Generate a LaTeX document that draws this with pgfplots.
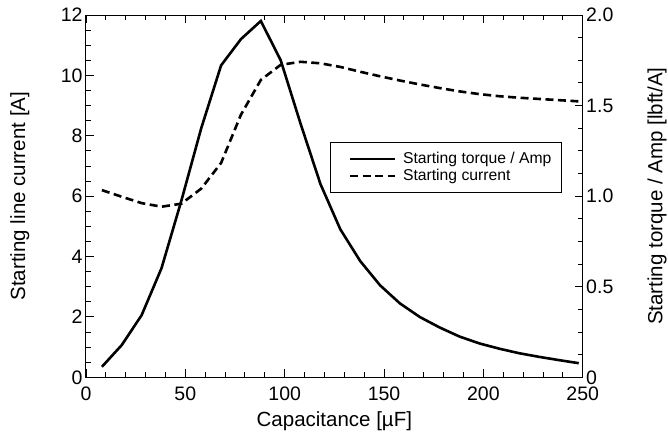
\documentclass[border=0pt]{standalone}
\usepackage{fontspec}
\setmainfont{Liberation Sans}
\usepackage{pgfplots}
\pgfplotsset{compat=1.18}

\pgfplotsset{
  every axis/.append style={
    scale only axis,
    width=496.7pt, height=362.3pt,
    at={(0,0)}, anchor=south west,
    xmin=0, xmax=250,
    tick align=inside,
    major tick length=8pt, minor tick length=5pt,
    every tick/.style={black, line width=0.9pt},
    axis line style={line width=1pt},
    tick label style={font=\fontsize{19.5}{22}\selectfont},
    xticklabel style={yshift=-6pt},
    label style={font=\fontsize{20.5}{24}\selectfont},
    every axis y label/.append style={anchor=center,
      font=\fontsize{20.5}{24}\selectfont},
    /pgf/number format/assume math mode=true,
  }
}

\begin{document}
\begin{tikzpicture}
\path[use as bounding box] (-86pt,-62.7pt) rectangle (582pt,377.3pt);

% starting current, left axis
\begin{axis}[
  ymin=0, ymax=12,
  ytick={0,2,...,12}, minor y tick num=3, ytick pos=left,
  xtick={0,50,...,250}, minor x tick num=4, xtick pos=both,
  xticklabel pos=lower,
  ylabel={Starting line current [A]},
  ylabel style={at={(axis description cs:-0.133,0.5)}},
  xlabel={Capacitance [µF]},
  xlabel style={at={(axis description cs:0.5,-0.122)}, anchor=center},
]
\addplot[black, line width=2.6pt, dash pattern=on 8pt off 4.5pt] coordinates {
  (8,6.20) (18,5.98) (28,5.77) (38,5.65) (48,5.75) (58,6.25) (68,7.10)
  (78,8.70) (88,9.85) (98,10.35) (108,10.45) (118,10.40) (128,10.28)
  (138,10.12) (148,9.97) (158,9.83) (168,9.70) (178,9.58) (188,9.47)
  (198,9.38) (208,9.31) (218,9.26) (228,9.22) (238,9.18) (248,9.14)
};
\end{axis}

% starting torque per amp, right axis
\begin{axis}[
  axis x line=none, axis y line*=right,
  ymin=0, ymax=2,
  ytick={0,0.5,1,1.5,2}, yticklabels={0,0.5,1.0,1.5,2.0},
  minor y tick num=3,
  ylabel={Starting torque / Amp [lbft/A]},
  ylabel style={at={(axis description cs:1.1496,0.5)}},
  legend style={at={(rel axis cs:0.958,0.649)}, anchor=north east,
    draw=black, line width=0.8pt, fill=white,
    font=\fontsize{15.7}{18}\selectfont, inner xsep=8pt, inner ysep=8pt,
    row sep=0pt},
  legend cell align=left,
  legend image code/.code={\draw[#1, line width=2.6pt] (0pt,0pt) -- (45pt,0pt);
    \path[draw=none] (-12pt,0pt) (51pt,0pt);},
]
\addplot[black, line width=2.6pt] coordinates {
  (8,0.058) (18,0.178) (28,0.343) (38,0.602) (48,0.975) (58,1.375)
  (68,1.722) (78,1.867) (88,1.967) (98,1.750) (108,1.400) (118,1.067)
  (128,0.817) (138,0.642) (148,0.508) (158,0.408) (168,0.333)
  (178,0.275) (188,0.225) (198,0.187) (208,0.158) (218,0.133)
  (228,0.113) (238,0.095) (248,0.078)
};
\addlegendentry{Starting torque / Amp}
\addlegendimage{black, dash pattern=on 8pt off 4.5pt}
\addlegendentry{Starting current}
\end{axis}
\end{tikzpicture}
\end{document}
